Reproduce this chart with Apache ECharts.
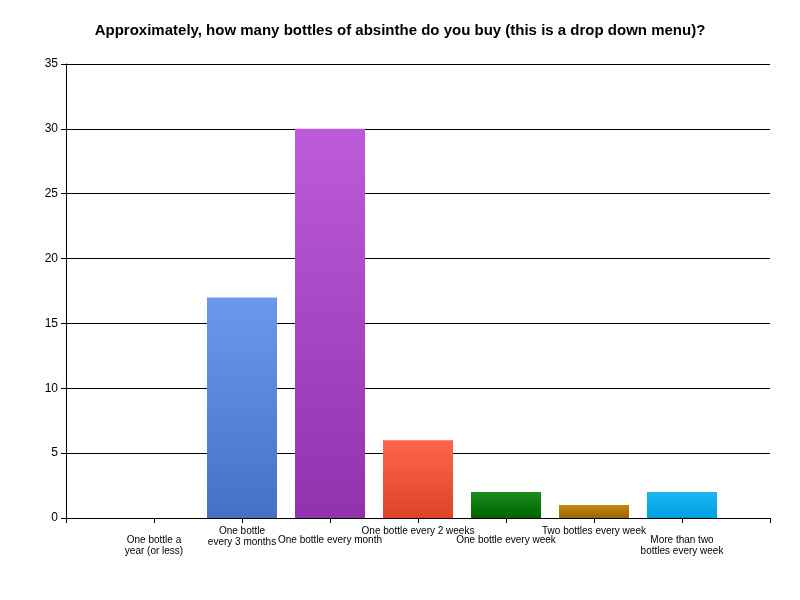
<!DOCTYPE html>
<html>
<head>
<meta charset="utf-8">
<script src="https://cdn.jsdelivr.net/npm/echarts@6/dist/echarts.min.js"></script>
<style>html,body{margin:0;background:#fff}#main{width:800px;height:600px}</style>
</head>
<body>
<div id="main"></div>
<script>
var categories = ['', 'One bottle a\nyear (or less)', 'One bottle\nevery 3 months', 'One bottle every month',
    'One bottle every 2 weeks', 'One bottle every week', 'Two bottles every week', 'More than two\nbottles every week', ''];
var values = [null, 0, 17, 30, 6, 2, 1, 2, null];
var colors = [null, null, ['#6b98ec', '#4471c6'], ['#bd5bdb', '#9232ad'], ['#ff6548', '#dd4326'],
    ['#1b8d1b', '#006200'], ['#c28c12', '#986400'], ['#1cb6f2', '#009fe0'], null];

var myChart = echarts.init(document.getElementById('main'));

var data = values.map(function (v, i) {
    if (!colors[i]) return v;
    return {
        value: v,
        itemStyle: {
            color: new echarts.graphic.LinearGradient(0, 0, 0, 1, [
                {offset: 0, color: colors[i][0]}, {offset: 1, color: colors[i][1]}
            ])
        }
    };
});

myChart.setOption({
    animation: false,
    title: {
        text: 'Approximately, how many bottles of absinthe do you buy (this is a drop down menu)?',
        left: 'center', top: 18,
        textStyle: {fontFamily: 'Arial, Liberation Sans', fontSize: 15, fontWeight: 'bold', color: '#000'}
    },
    grid: {left: 66, right: 30, top: 64, bottom: 82},
    xAxis: {
        type: 'category',
        data: categories,
        boundaryGap: false,
        axisLine: {lineStyle: {color: '#000'}},
        axisTick: {interval: 0, lineStyle: {color: '#000'}},
        axisLabel: {
            interval: 0, color: '#000', fontFamily: 'Arial, Liberation Sans', fontSize: 10, lineHeight: 11,
            formatter: function (v, i) { return i % 2 === 1 ? '{b|' + v.split('\n').join('}\n{b|') + '}' : v; },
            rich: {b: {padding: [v = 18, 0, 0, 0], fontSize: 10, lineHeight: 11, color: '#000'}}
        }
    },
    yAxis: {
        type: 'value', min: 0, max: 35, interval: 5,
        axisLine: {show: true, lineStyle: {color: '#000'}},
        axisTick: {show: true, lineStyle: {color: '#000'}},
        axisLabel: {color: '#000', fontFamily: 'Arial, Liberation Sans', fontSize: 12},
        splitLine: {lineStyle: {color: '#000'}}
    },
    series: [{type: 'bar', data: data, barWidth: 70}]
});
</script>
</body>
</html>
